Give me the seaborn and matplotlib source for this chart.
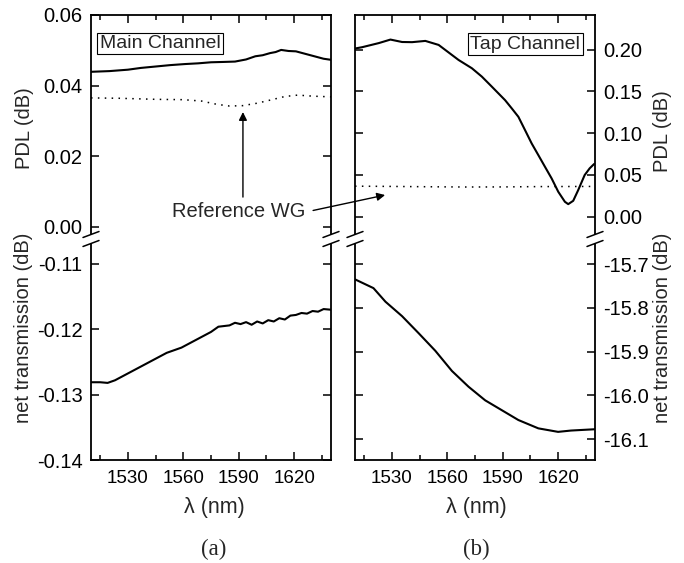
import matplotlib
matplotlib.use("Agg")
import matplotlib.pyplot as plt
from matplotlib.ticker import FixedLocator, FormatStrFormatter
from matplotlib.patches import Polygon
import seaborn as sns

# (a) Main channel: PDL and reference waveguide
wl_pdl_a = [1510, 1520, 1530, 1537, 1545, 1553, 1561, 1568, 1575, 1582, 1588, 1594,
            1599, 1603, 1607, 1610, 1613, 1617, 1621, 1626, 1631, 1636, 1640]
pdl_a = [0.0439, 0.0441, 0.0445, 0.0450, 0.0454, 0.0458, 0.0461, 0.0463, 0.0466, 0.0467, 0.0468, 0.0474,
         0.0483, 0.0486, 0.0492, 0.0495, 0.0501, 0.0498, 0.0497, 0.0490, 0.0483, 0.0476, 0.0473]
wl_ref_a = [1510, 1525, 1545, 1560, 1570, 1578, 1585, 1592, 1600, 1608, 1615, 1622, 1630, 1640]
ref_a = [0.0365, 0.0364, 0.0361, 0.0360, 0.0356, 0.0347, 0.0342, 0.0343, 0.0350, 0.0360, 0.0369, 0.0373, 0.0370, 0.0368]

# (a) Main channel: net transmission
wl_tr_a = [1510, 1515, 1519, 1523, 1527, 1531, 1535, 1539, 1543, 1547, 1551, 1555, 1559, 1563,
           1567, 1571, 1575, 1579, 1582, 1585, 1588, 1591, 1594, 1597, 1600, 1603, 1606, 1609,
           1612, 1615, 1618, 1621, 1624, 1627, 1630, 1633, 1636, 1640]
tr_a = [-0.1281, -0.1281, -0.1282, -0.1278, -0.1272, -0.1266, -0.1260, -0.1254, -0.1248, -0.1242,
        -0.1236, -0.1232, -0.1228, -0.1222, -0.1216, -0.1210, -0.1204, -0.1196, -0.1195, -0.1194,
        -0.1190, -0.1192, -0.1189, -0.1193, -0.1188, -0.1191, -0.1186, -0.1188, -0.1183, -0.1185,
        -0.1179, -0.1178, -0.1175, -0.1176, -0.1172, -0.1173, -0.1169, -0.1170]

# (b) Tap channel: PDL and reference waveguide
wl_pdl_b = [1510, 1513.9, 1522.9, 1529.2, 1535.5, 1540.9, 1548.1, 1555.3, 1558.9, 1566.1, 1573.3,
            1578.7, 1584.1, 1591.3, 1594.9, 1598.5, 1602.1, 1605.7, 1609.3, 1612.9, 1616.5,
            1620.1, 1623.7, 1625.5, 1628.2, 1630.9, 1634.4, 1637.1, 1639.5]
pdl_b = [0.2012, 0.2028, 0.2077, 0.2119, 0.2090, 0.2088, 0.2103, 0.2055, 0.1995, 0.1875, 0.1776,
         0.1676, 0.1556, 0.1394, 0.1296, 0.1195, 0.1036, 0.0876, 0.0737, 0.0597, 0.0458,
         0.0298, 0.0178, 0.0150, 0.0190, 0.0318, 0.0498, 0.0578, 0.0630]
wl_ref_b = [1510, 1530, 1550, 1570, 1590, 1610, 1640]
ref_b = [0.0365, 0.0362, 0.0358, 0.0355, 0.0356, 0.0360, 0.0362]

# (b) Tap channel: net transmission
wl_tr_b = [1510, 1520, 1526.5, 1535.5, 1544.5, 1553.5, 1562.5, 1571.5, 1580.5, 1587.7,
           1598.5, 1609.3, 1620, 1627, 1640]
tr_b = [-15.735, -15.755, -15.786, -15.819, -15.858, -15.898, -15.944, -15.980, -16.011, -16.029,
        -16.056, -16.075, -16.083, -16.080, -16.077]

x_major = [1530, 1560, 1590, 1620]
x_minor = [1515, 1545, 1575, 1605, 1635]

sns.set_theme(style="ticks")
plt.rcParams['font.family'] = ['Liberation Sans', 'DejaVu Sans']
plt.rcParams['axes.unicode_minus'] = False
plt.rcParams['axes.linewidth'] = 1.3

W, H = 684, 563
fig = plt.figure(figsize=(W / 100, H / 100), dpi=100)


def box(x0, y0, x1, y1):
    return [x0 / W, 1 - y1 / H, (x1 - x0) / W, (y1 - y0) / H]


ax_lt = fig.add_axes(box(91, 15, 331, 240))
ax_lb = fig.add_axes(box(91, 240, 331, 460))
ax_rt = fig.add_axes(box(355, 15, 595, 240))
ax_rb = fig.add_axes(box(355, 240, 595, 460))

dots = (0, (1, 3.5))
sns.lineplot(x=wl_pdl_a, y=pdl_a, ax=ax_lt, color='black', lw=1.5)
sns.lineplot(x=wl_ref_a, y=ref_a, ax=ax_lt, color='black', lw=1.1, linestyle=dots)
sns.lineplot(x=wl_tr_a, y=tr_a, ax=ax_lb, color='black', lw=1.5)
sns.lineplot(x=wl_pdl_b, y=pdl_b, ax=ax_rt, color='black', lw=1.5)
sns.lineplot(x=wl_ref_b, y=ref_b, ax=ax_rt, color='black', lw=1.1, linestyle=dots)
sns.lineplot(x=wl_tr_b, y=tr_b, ax=ax_rb, color='black', lw=1.5)

ax_lt.set_ylim(-0.00377, 0.06)
ax_lb.set_ylim(-0.14, -0.10633)
ax_rt.set_ylim(-0.0279, 0.2413)
ax_rb.set_ylim(-16.1472, -15.6452)

ax_lt.yaxis.set_major_locator(FixedLocator([0.0, 0.02, 0.04, 0.06]))
ax_lt.yaxis.set_major_formatter(FormatStrFormatter('%.2f'))
ax_lb.yaxis.set_major_locator(FixedLocator([-0.14, -0.13, -0.12, -0.11]))
ax_lb.yaxis.set_major_formatter(FormatStrFormatter('%.2f'))
ax_rt.yaxis.set_major_locator(FixedLocator([0.0, 0.05, 0.10, 0.15, 0.20]))
ax_rt.yaxis.set_major_formatter(FormatStrFormatter('%.2f'))
ax_rb.yaxis.set_major_locator(FixedLocator([-16.1, -16.0, -15.9, -15.8, -15.7]))
ax_rb.yaxis.set_major_formatter(FormatStrFormatter('%.1f'))

for ax, is_top, on_right in [(ax_lt, True, False), (ax_lb, False, False),
                             (ax_rt, True, True), (ax_rb, False, True)]:
    ax.set_xlim(1510, 1640)
    ax.xaxis.set_major_locator(FixedLocator(x_major))
    ax.xaxis.set_minor_locator(FixedLocator(x_minor))
    ax.set_xlabel('')
    ax.set_ylabel('')
    for s in ax.spines.values():
        s.set_visible(True)
        s.set_color('black')
        s.set_linewidth(1.3)
    ax.spines['bottom' if is_top else 'top'].set_visible(False)
    ax.tick_params(which='both', direction='in', color='black', width=1.1,
                   left=True, right=True, top=is_top, bottom=not is_top,
                   labeltop=False, labelbottom=not is_top,
                   labelleft=not on_right, labelright=on_right,
                   labelsize=14.5, labelcolor='black')
    ax.tick_params(which='major', length=6, pad=6)
    ax.tick_params(which='minor', length=3.5)
    ax.tick_params(axis='x', labelsize=13.5, pad=7)

ax_lt.text(0.2875, 0.873, 'Main Channel', transform=ax_lt.transAxes, ha='center', va='center',
           fontsize=14, bbox=dict(boxstyle='square,pad=0.12', fc='white', ec='black', lw=0.8))
ax_rt.text(0.710, 0.871, 'Tap Channel', transform=ax_rt.transAxes, ha='center', va='center',
           fontsize=14, bbox=dict(boxstyle='square,pad=0.12', fc='white', ec='black', lw=0.8))

# Reference WG annotation
ax_lt.text(1590.2, 0.0043, 'Reference WG', ha='center', va='center', fontsize=14.5)
ax_lt.annotate('', xy=(1592.3, 0.0325), xytext=(1592.3, 0.0084),
               arrowprops=dict(arrowstyle='-|>', color='black', lw=1.0,
                               mutation_scale=12, shrinkA=0, shrinkB=0))
ax_rt.annotate('', xy=(1526.3, 0.0259), xycoords='data',
               xytext=(1630.3, 0.0046), textcoords=ax_lt.transData,
               arrowprops=dict(arrowstyle='-|>', color='black', lw=1.0,
                               mutation_scale=12, shrinkA=0, shrinkB=0),
               annotation_clip=False)

# axis labels
fs = 14.5
fig.text(24 / W, 1 - 128 / H, 'PDL (dB)', rotation=90, ha='center', va='center', fontsize=fs)
fig.text(24 / W, 1 - 328 / H, 'net transmission (dB)', rotation=90, ha='center', va='center', fontsize=fs)
fig.text(662 / W, 1 - 131 / H, 'PDL (dB)', rotation=90, ha='center', va='center', fontsize=fs)
fig.text(662 / W, 1 - 328 / H, 'net transmission (dB)', rotation=90, ha='center', va='center', fontsize=fs)
fig.text(214 / W, 1 - 507 / H, 'λ (nm)', ha='center', va='center', fontsize=15.5)
fig.text(476 / W, 1 - 507 / H, 'λ (nm)', ha='center', va='center', fontsize=15.5)
fig.text(214 / W, 1 - 549 / H, '(a)', ha='center', va='center', fontsize=16.5, family='Liberation Serif')
fig.text(476 / W, 1 - 549 / H, '(b)', ha='center', va='center', fontsize=16.5, family='Liberation Serif')

# axis break marks
ov = fig.add_axes([0, 0, 1, 1])
ov.set_xlim(0, W)
ov.set_ylim(H, 0)
ov.axis('off')
ov.patch.set_alpha(0)
c = 239
for xs in [91, 331, 355, 595]:
    ov.add_patch(Polygon([(xs - 4, c - 4.5 + 1.5), (xs + 4, c - 4.5 - 1.5),
                          (xs + 4, c + 4.5 - 1.5), (xs - 4, c + 4.5 + 1.5)],
                         closed=True, fc='white', ec='none'))
    for d in (-4.5, 4.5):
        ov.plot([xs - 8, xs + 8], [c + d + 3, c + d - 3], color='black', lw=1.1)

fig.savefig('out.png', dpi=100, facecolor='white')
